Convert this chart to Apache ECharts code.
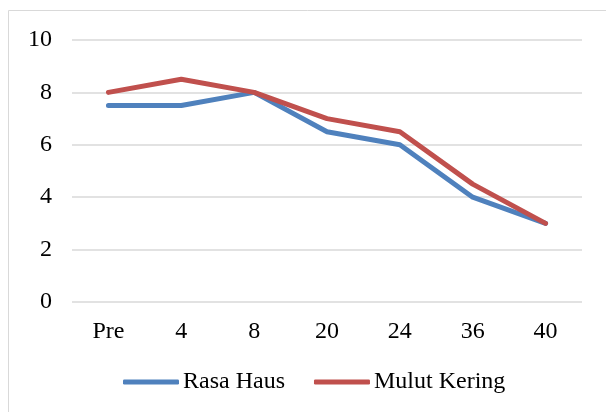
<!DOCTYPE html>
<html><head><meta charset="utf-8">
<script src="https://cdn.jsdelivr.net/npm/echarts@6/dist/echarts.min.js"></script>
<style>html,body{margin:0;padding:0;background:#fff}#c{width:606px;height:412px}</style>
</head><body><div id="c"></div>
<script>
const categories = ['Pre', '4', '8', '20', '24', '36', '40'];
const rasaHaus = [7.5, 7.5, 8, 6.5, 6, 4, 3];
const mulutKering = [8, 8.5, 8, 7, 6.5, 4.5, 3];
const font = '"Liberation Serif", "Times New Roman", serif';
const chart = echarts.init(document.getElementById('c'));
chart.setOption({
  animation: false,
  textStyle: {fontFamily: font},
  graphic: [{type: 'rect', shape: {x: 8.5, y: 10.5, width: 610, height: 420}, style: {fill: 'none', stroke: '#d9d9d9', lineWidth: 1}}],
  grid: {left: 72, right: 24, top: 40, bottom: 110},
  legend: {
    top: 370, left: 123, padding: 0, itemWidth: 56, itemHeight: 5, itemGap: 29, icon: 'roundRect',
    textStyle: {fontFamily: font, fontSize: 24, color: '#000', padding: [0, 0, 0, -1]},
    data: ['Rasa Haus', 'Mulut Kering']
  },
  xAxis: {
    type: 'category', data: categories, boundaryGap: true,
    axisLine: {show: false}, axisTick: {show: false},
    axisLabel: {fontFamily: font, fontSize: 24, color: '#000', margin: 18}
  },
  yAxis: {
    type: 'value', min: 0, max: 10, interval: 2,
    axisLine: {show: false}, axisTick: {show: false},
    splitLine: {lineStyle: {color: '#d9d9d9', width: 1.5}},
    axisLabel: {fontFamily: font, fontSize: 24, color: '#000', margin: 20}
  },
  series: [
    {name: 'Rasa Haus', type: 'line', data: rasaHaus, symbol: 'none', color: '#4F81BD',
     lineStyle: {width: 5, cap: 'round', join: 'round'}},
    {name: 'Mulut Kering', type: 'line', data: mulutKering, symbol: 'none', color: '#C0504D',
     lineStyle: {width: 5, cap: 'round', join: 'round'}}
  ]
});
</script></body></html>
